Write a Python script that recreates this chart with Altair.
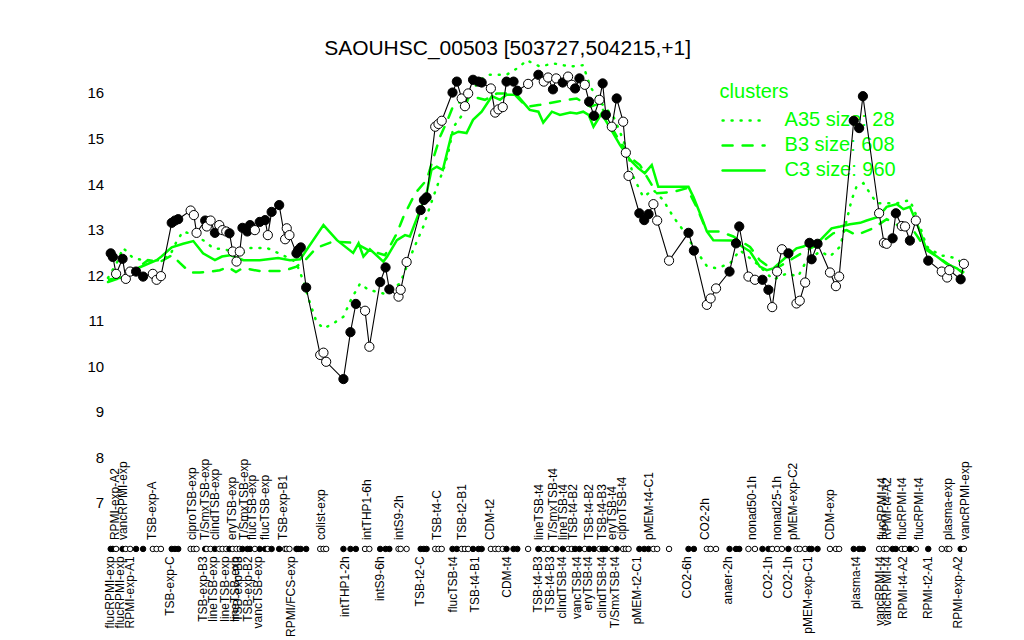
import altair as alt
import pandas as pd

# ---------------- data ----------------
sample_pos = [1.5,1.9,2.5,3.7,4.3,5.1,6.2,7.5,9.3,10.0,
              10.8,12.8,13.4,14.0,16.3,16.9,17.4,19.0,19.3,20.0,
              20.8,21.6,22.2,22.9,23.5,24.1,24.8,25.4,25.9,26.8,
              27.3,28.2,29.1,30.1,30.6,31.3,32.7,33.8,34.1,34.6,
              35.9,36.2,36.7,37.7,40.3,40.9,41.4,44.6,45.9,46.9,
              48.6,49.4,51.4,52.4,53.1,54.8,55.2,56.3,58.9,59.5,
              60.0,61.6,62.2,62.8,64.8,65.6,66.5,67.1,67.7,68.6,
              69.6,70.2,71.9,72.7,73.3,74.1,74.8,76.1,76.8,78.8,
              80.7,81.7,82.5,83.4,84.0,85.2,86.2,86.9,87.5,88.3,
              89.3,90.1,91.0,92.0,92.6,93.2,94.3,95.2,96.4,96.9,
              97.4,99.4,100.3,101.1,102.0,102.7,104.9,108.5,109.5,111.9,
              112.6,113.6,116.1,117.3,117.9,119.6,120.8,122.2,123.3,124.0,
              124.9,125.8,127.0,128.5,129.1,130.1,130.9,131.3,132.4,134.7,
              135.8,136.4,139.1,140.1,140.8,143.8,144.7,145.2,146.3,146.9,
              148.0,148.6,149.5,150.6,152.9,155.4,156.4,156.8,158.9,159.5]

sample_expr = [12.48,12.40,12.03,12.36,11.92,12.08,12.08,11.97,12.03,11.90,
               11.98,13.15,13.20,13.23,13.42,13.32,12.93,13.20,13.07,13.20,
               12.93,13.10,12.99,12.96,12.92,12.52,12.30,12.52,13.04,12.96,
               13.10,12.99,13.17,13.21,12.88,13.39,13.54,12.79,13.03,12.88,
               12.48,12.55,12.61,11.73,10.25,10.30,10.10,9.72,10.75,11.37,
               11.22,10.43,11.85,12.17,11.69,11.53,11.68,12.29,13.43,13.65,
               13.71,15.26,15.32,15.39,16.01,16.25,15.88,15.71,15.99,16.29,
               16.25,16.23,16.10,15.57,15.64,15.69,16.25,16.25,16.05,16.20,
               16.40,16.25,16.34,16.08,16.32,16.23,16.36,16.18,16.10,16.32,
               16.18,15.81,15.50,15.85,16.21,15.52,15.26,15.88,15.37,14.69,
               14.18,13.36,13.21,13.34,13.56,13.20,12.32,12.93,12.54,11.35,
               11.49,11.71,12.08,12.70,13.07,11.97,11.90,11.90,11.68,11.30,
               12.08,12.57,12.48,11.38,11.44,11.84,12.71,12.35,12.69,12.06,
               11.76,11.97,15.39,15.23,15.93,13.36,12.71,12.69,12.81,13.36,
               13.08,13.07,12.76,13.20,12.32,12.08,11.95,12.11,11.91,12.25]

sample_filled = [1,1,0,1,0,0,1,1,0,0,0,
                 1,1,1,0,0,0,1,0,0,1,0,
                 0,0,1,0,0,0,1,1,1,0,1,
                 1,0,1,1,0,0,0,1,1,1,1,
                 0,0,0,1,1,1,0,0,1,1,1,
                 0,0,0,1,1,1,0,0,0,1,1,
                 0,0,0,1,1,1,0,0,0,0,1,
                 1,1,0,1,0,0,1,0,1,0,0,
                 1,1,0,1,1,0,1,1,0,1,0,
                 0,0,1,1,1,0,0,0,1,1,0,
                 0,0,1,1,1,0,0,1,1,0,0,
                 0,1,0,0,0,1,1,1,0,0,0,
                 1,1,1,0,0,0,1,1,0,0,1,
                 0,1,0,0,0,1,0]

a35_pos = [1.0,2.7,3.8,5.6,7.5,10.6,12.5,13.7,14.9,17.1,19.0,20.4,23.2,25.4,27.3,30.4,33.4,35.8,37.1,38.4,
           39.6,40.9,42.7,44.6,46.1,47.7,49.2,52.0,55.1,57.5,59.4,60.6,61.9,63.1,64.0,65.0,66.8,68.0,69.9,71.7,
           74.8,77.3,78.5,81.0,83.5,86.6,89.0,90.3,92.1,94.6,95.8,97.1,98.3,100.1,102.0,103.8,105.7,107.5,109.4,111.9,
           113.7,116.2,118.0,121.1,124.2,126.7,128.8,130.4,132.9,134.7,136.6,137.8,138.7,139.6,140.9,142.1,143.4,145.2,147.1,149.5,
           150.8,152.6,155.1,158.2,159.4]
a35_expr = [11.94,12.29,12.60,12.38,12.33,12.33,12.44,12.74,12.96,12.88,12.74,12.60,12.55,12.44,12.60,12.60,12.44,12.29,11.90,11.39,
            10.98,10.83,10.94,11.09,11.49,11.82,11.68,11.60,11.82,12.55,13.07,13.50,13.94,14.31,14.68,15.26,15.55,15.99,16.29,16.40,
            16.40,16.58,16.72,16.58,16.65,16.58,16.61,16.14,15.81,15.48,15.15,14.75,14.16,13.72,13.87,13.65,13.28,12.99,12.63,12.20,
            12.15,12.26,12.55,12.26,11.90,12.04,11.97,12.33,12.52,12.41,12.63,13.21,13.65,13.94,14.02,13.80,13.58,13.58,13.58,13.65,
            13.28,12.63,12.44,12.37,12.22]

b3_pos = [1.0,4.1,6.9,8.4,10.6,12.9,14.3,16.2,18.0,20.2,21.7,23.2,24.7,26.0,29.1,31.0,33.4,35.9,37.5,39.6,
          42.7,46.7,49.2,52.3,54.5,55.7,57.9,60.0,62.5,64.0,65.0,68.6,70.8,73.0,76.1,78.5,81.0,84.1,87.8,90.3,
          92.1,94.0,95.8,98.3,99.5,102.6,105.7,108.2,110.0,111.9,114.3,116.8,119.9,121.7,124.2,127.3,130.4,132.9,135.3,137.8,
          139.6,142.7,145.2,147.7,150.1,152.0,154.5,156.9,159.4]
b3_expr = [11.85,11.98,12.20,12.33,12.29,12.44,12.27,12.06,12.06,12.08,12.11,12.18,12.07,12.16,12.09,12.09,12.09,12.19,12.33,12.60,
           12.74,12.71,12.55,12.44,12.92,13.28,13.80,14.09,15.04,15.44,15.74,15.92,15.85,15.99,15.99,15.70,15.74,15.81,15.88,15.70,
           15.77,15.30,14.93,14.53,14.42,13.80,13.83,13.91,13.50,12.96,12.96,12.85,12.62,12.33,12.11,12.33,12.55,12.70,12.92,12.99,
           12.88,13.03,13.23,13.07,12.99,12.66,12.41,12.22,12.07]

c3_pos = [1.0,4.1,6.8,10.0,10.9,12.8,14.9,16.8,18.6,20.8,22.1,23.6,26.1,29.1,32.5,34.7,36.6,40.9,43.4,46.4,
          47.4,48.3,49.5,52.0,52.7,54.5,56.0,56.9,60.0,60.9,61.9,63.0,64.6,65.9,67.4,68.6,70.2,72.1,73.6,74.8,
          76.7,79.1,80.7,81.6,83.2,84.7,86.6,87.8,89.0,90.0,90.9,92.4,94.0,95.8,97.7,99.2,100.4,101.7,102.9,105.1,
          108.5,109.4,110.9,111.9,113.1,116.8,118.4,119.9,120.5,121.7,123.0,124.2,126.7,128.5,129.8,131.0,132.9,135.0,136.6,138.4,
          140.3,141.5,143.6,145.2,147.1,148.3,149.5,151.4,152.6,154.5,156.3,158.2,159.4]
c3_expr = [11.90,11.96,12.17,12.33,12.41,12.61,12.69,12.75,12.48,12.33,12.41,12.44,12.33,12.33,12.38,12.33,12.35,13.10,12.77,12.49,
           12.70,12.41,12.57,12.30,12.41,12.77,12.88,12.85,13.80,14.31,14.38,14.31,15.08,15.15,15.12,15.41,15.59,15.93,15.85,15.96,
           15.96,15.63,15.59,15.35,15.59,15.52,15.57,15.55,15.59,15.52,15.26,15.55,15.23,14.86,14.53,14.35,14.24,14.42,13.94,13.94,
           13.94,13.72,13.28,12.96,12.77,12.76,12.63,12.52,12.41,12.19,12.11,12.15,12.41,12.59,12.63,12.71,12.77,13.03,13.07,13.12,
           13.15,13.20,13.28,13.50,13.56,13.45,13.50,12.96,12.55,12.41,12.25,12.15,12.04]

top_label_pos = [2.3,3.8,9.1,16.5,19.0,20.8,23.9,26.1,27.6,30.1,33.5,40.4,48.9,54.8,61.9,66.5,71.7,
                 80.9,83.4,85.3,87.2,90.0,92.4,94.3,96.1,101.1,111.6,120.2,124.8,127.9,134.7,
                 144.3,145.2,148.0,151.1,156.6,159.7]
top_label_text = ["RPMI-exp-A2","vancRPMI-exp","TSB-exp-A","ciproTSB-exp","T/SmxTSB-exp","clindTSB-exp",
                  "eryTSB-exp","T/SmxTSB-exp","flucTSB-exp","flucTSB-exp","TSB-exp-B1","colist-exp",
                  "intTHP1-6h","intS9-2h","TSB-t4-C","TSB-t2-B1","CDM-t2",
                  "lineTSB-t4","T/SmxTSB-t4","lineTSB-t4","TSB-t4-B2","TSB-t4-B2","TSB-t4-B3","eryTSB-t4",
                  "ciproTSB-t4","pMEM-t4-C1","CO2-2h","nonad50-1h","nonad25-1h","pMEM-exp-C2","CDM-exp",
                  "flucRPMI-t4","RPMI-t4-A2","flucRPMI-t4","flucRPMI-t4","plasma-exp","vancRPMI-exp"]

bottom_label_pos = [1.4,3.2,5.1,12.5,18.6,20.5,22.7,24.5,25.1,27.0,28.8,34.9,44.9,51.4,58.8,64.9,68.9,74.8,
                    80.7,82.9,85.0,87.8,89.9,92.4,94.9,98.9,108.2,115.9,123.3,127.0,130.7,139.6,
                    144.0,145.2,148.3,152.9,158.5]
bottom_label_text = ["flucRPMI-exp","flucRPMI-exp","RPMI-exp-A1","TSB-exp-C","TSB-exp-B3","lineTSB-exp",
                     "lineTSB-exp","lineTSB-exp","TSB-exp-B3","TSB-exp-B2","vancTSB-exp","RPMI/FCS-exp",
                     "intTHP1-2h","intS9-6h","TSB-t2-C","flucTSB-t4","TSB-t4-B1","CDM-t4",
                     "TSB-t4-B3","TSB-t4-B3","clindTSB-t4","vancTSB-t4","eryTSB-t4","clindTSB-t4","T/SmxTSB-t4",
                     "pMEM-t2-C1","CO2-6h","anaer-2h","CO2-1h","CO2-1h","pMEM-exp-C1","plasma-t4",
                     "vancRPMI-t4","vancRPMI-t4","RPMI-t4-A2","RPMI-t2-A1","RPMI-exp-A2"]

y_ticks = [7, 8, 9, 10, 11, 12, 13, 14, 15, 16]
legend_title = "clusters"
legend_entries = ["A35 size: 28", "B3 size: 608", "C3 size: 960"]
chart_title = "SAOUHSC_00503 [503727,504215,+1]"

# ---------------- chart ----------------
FONT = "Liberation Sans"
GREEN = "#00FF00"
W, H = 891, 546.67

samples = pd.DataFrame({"pos": sample_pos, "expr": sample_expr,
                        "kind": ["filled" if f else "open" for f in sample_filled]})
a35 = pd.DataFrame({"pos": a35_pos, "expr": a35_expr})
b3 = pd.DataFrame({"pos": b3_pos, "expr": b3_expr})
c3 = pd.DataFrame({"pos": c3_pos, "expr": c3_expr})
top_lab = pd.DataFrame({"pos": top_label_pos, "label": top_label_text})
bot_lab = pd.DataFrame({"pos": bottom_label_pos, "label": bottom_label_text})
one = pd.DataFrame({"k": [0]})

xs = alt.Scale(domain=[0, 165], nice=False, zero=False)
ys = alt.Scale(domain=[5, 17], nice=False, zero=False)
yaxis = alt.Axis(values=y_ticks, title=None, grid=False, domain=False, ticks=False,
                 labelFont=FONT, labelFontSize=15, labelColor="black",
                 labelPadding=2, offset=-3)
X = alt.X("pos:Q", scale=xs, axis=None)
Y = alt.Y("expr:Q", scale=ys, axis=yaxis)
fill_scale = alt.Scale(domain=["filled", "open"], range=["black", "white"])

# row of sample markers and label rows (pixel offsets within the plot area)
STRIP_Y = 501.5
TOP_LAB_Y = 492.6
BOT_LAB_Y = 509.0
LAB_SIZE = 12

green_a = alt.Chart(a35).mark_line(color=GREEN, strokeWidth=2.5, strokeDash=[1, 8],
                                   strokeCap="round").encode(x=X, y=Y)
green_b = alt.Chart(b3).mark_line(color=GREEN, strokeWidth=2.5, strokeDash=[10, 10],
                                  strokeCap="round").encode(x=X, y=Y)
green_c = alt.Chart(c3).mark_line(color=GREEN, strokeWidth=2.5).encode(x=X, y=Y)

black_line = alt.Chart(samples).mark_line(color="black", strokeWidth=1.1).encode(x=X, y=Y)
points = alt.Chart(samples).mark_point(shape="circle", size=85,
                                       stroke="black", strokeWidth=1, opacity=1).encode(
    x=X, y=Y, fill=alt.Fill("kind:N", scale=fill_scale, legend=None))
strip = alt.Chart(samples).mark_point(shape="circle", size=30, stroke="black",
                                      strokeWidth=1, opacity=1).encode(
    x=X, y=alt.value(STRIP_Y), fill=alt.Fill("kind:N", scale=fill_scale, legend=None))

top_text = alt.Chart(top_lab).mark_text(angle=270, align="left", baseline="middle",
                                        font=FONT, fontSize=LAB_SIZE, color="black").encode(
    x=X, y=alt.value(TOP_LAB_Y), text="label:N")
bot_text = alt.Chart(bot_lab).mark_text(angle=270, align="right", baseline="middle",
                                        font=FONT, fontSize=LAB_SIZE, color="black").encode(
    x=X, y=alt.value(BOT_LAB_Y), text="label:N")

# legend (manual, R style)
leg_title = alt.Chart(one).mark_text(text=legend_title, align="left", baseline="middle",
                                     font=FONT, fontSize=20, color=GREEN).encode(
    x=alt.value(617), y=alt.value(45))
leg_layers = [leg_title]
dashes = [[1, 8], [10, 10], None]
for i, (lab, dash) in enumerate(zip(legend_entries, dashes)):
    yy = 73 + 25 * i
    kw = dict(color=GREEN, strokeWidth=2.5, strokeCap="round")
    if dash:
        kw["strokeDash"] = dash
    leg_layers.append(alt.Chart(one).mark_rule(**kw).encode(
        x=alt.value(620), x2=alt.value(662), y=alt.value(yy)))
    leg_layers.append(alt.Chart(one).mark_text(text=lab, align="left", baseline="middle",
                                               font=FONT, fontSize=20, color=GREEN).encode(
        x=alt.value(682), y=alt.value(yy)))

title = alt.Chart(one).mark_text(text=chart_title, align="center", baseline="alphabetic",
                                 font=FONT, fontSize=21, color="black").encode(
    x=alt.value(405), y=alt.value(8))

chart = alt.layer(
    green_a, *leg_layers, green_b, green_c, black_line, points, strip, top_text, bot_text, title
).properties(
    width=W, height=H,
    background="white",
    autosize=alt.AutoSizeParams(type="none"),
    padding={"left": 94.6, "top": 39.44, "right": 22, "bottom": 44},
).configure_view(strokeWidth=0, stroke=None)

chart.save("out.html", embed_options={"renderer": "svg", "actions": False})
